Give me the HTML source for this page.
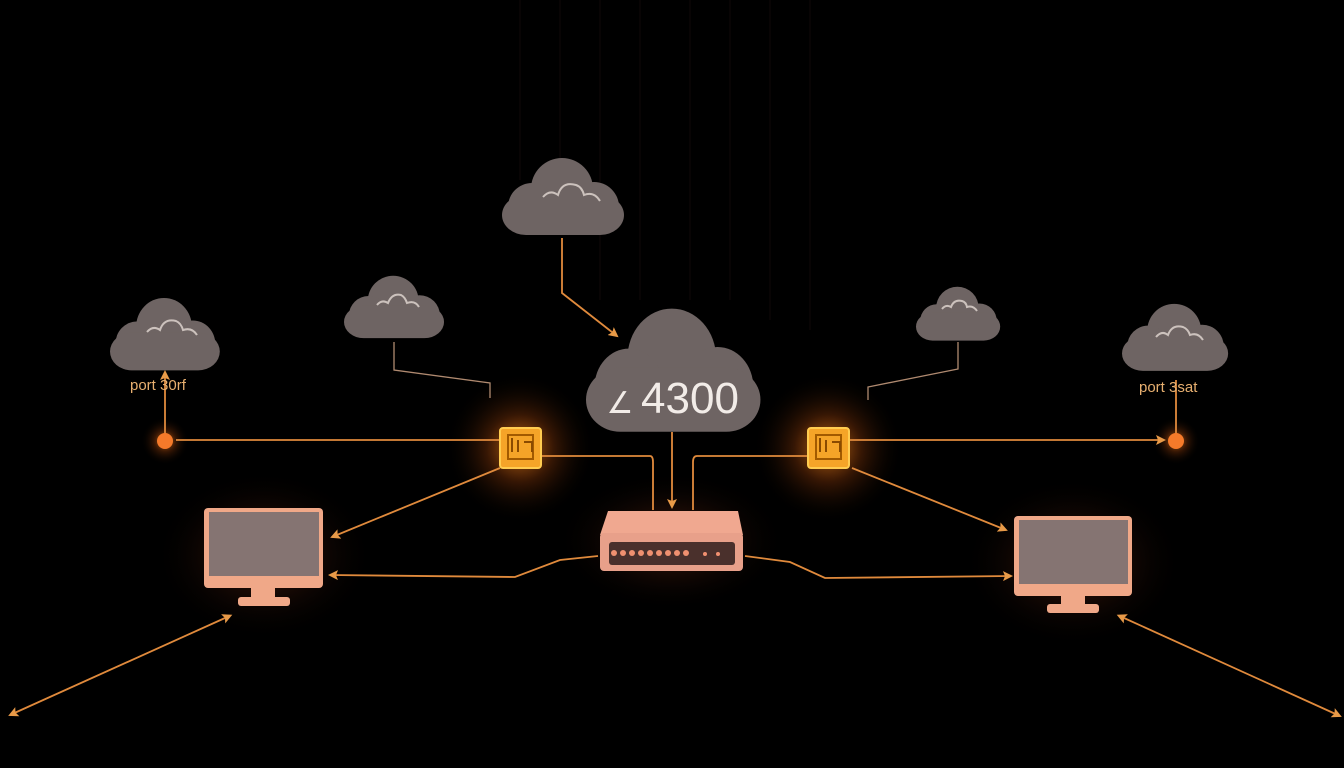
<!DOCTYPE html>
<html><head><meta charset="utf-8"><style>
html,body{margin:0;padding:0;background:#000;}
svg{display:block;}
</style></head><body>
<svg width="1344" height="768" viewBox="0 0 1344 768" xmlns="http://www.w3.org/2000/svg">
<defs>
<g id="cloud">
  <circle cx="60" cy="32" r="31"/>
  <circle cx="30" cy="50" r="24"/>
  <circle cx="92" cy="50" r="25"/>
  <rect x="0" y="38" width="122" height="40" rx="24"/>
</g>
<radialGradient id="glow" cx="50%" cy="50%" r="50%">
  <stop offset="0" stop-color="#ff9a20" stop-opacity="0.75"/>
  <stop offset="0.45" stop-color="#d85a10" stop-opacity="0.25"/>
  <stop offset="1" stop-color="#000" stop-opacity="0"/>
</radialGradient>
<radialGradient id="glow2" cx="50%" cy="50%" r="50%">
  <stop offset="0" stop-color="#c04a20" stop-opacity="0.4"/>
  <stop offset="1" stop-color="#000" stop-opacity="0"/>
</radialGradient>
<marker id="ah" markerWidth="10" markerHeight="10" refX="8" refY="5" orient="auto" markerUnits="userSpaceOnUse">
  <path d="M0,0 L10,5 L0,10 L2,5 Z" fill="#e89a48"/>
</marker>
<marker id="ahs" markerWidth="10" markerHeight="10" refX="2" refY="5" orient="auto-start-reverse" markerUnits="userSpaceOnUse">
  <path d="M0,0 L10,5 L0,10 L2,5 Z" fill="#e89a48"/>
</marker>
</defs>
<rect width="1344" height="768" fill="#000"/>
<g stroke="#1a100c" stroke-width="1" opacity="0.6">
<line x1="560" y1="0" x2="560" y2="160"/><line x1="600" y1="0" x2="600" y2="300"/>
<line x1="640" y1="0" x2="640" y2="300"/><line x1="690" y1="0" x2="690" y2="300"/>
<line x1="730" y1="0" x2="730" y2="300"/><line x1="770" y1="0" x2="770" y2="320"/>
<line x1="520" y1="0" x2="520" y2="180"/><line x1="810" y1="0" x2="810" y2="330"/>
</g>
<ellipse cx="520" cy="448" rx="75" ry="75" fill="url(#glow)"/>
<ellipse cx="828" cy="448" rx="75" ry="75" fill="url(#glow)"/>
<ellipse cx="671" cy="541" rx="115" ry="70" fill="url(#glow2)"/>
<ellipse cx="264" cy="555" rx="110" ry="85" fill="url(#glow2)"/>
<ellipse cx="1073" cy="562" rx="110" ry="85" fill="url(#glow2)"/>
<ellipse cx="165" cy="441" rx="24" ry="24" fill="url(#glow)"/>
<ellipse cx="1176" cy="441" rx="24" ry="24" fill="url(#glow)"/>

<g fill="#6e6463">
<use href="#cloud" transform="translate(502,157) scale(1,1)"/>
<use href="#cloud" transform="translate(110,297) scale(0.9,0.94)"/>
<use href="#cloud" transform="translate(344,275) scale(0.82,0.81)"/>
<use href="#cloud" transform="translate(916,286) scale(0.69,0.7)"/>
<use href="#cloud" transform="translate(1122,303) scale(0.87,0.87)"/>
<use href="#cloud" transform="translate(586,307) scale(1.43,1.6)"/>
</g>
<g fill="none" stroke="#ddd2cc" stroke-width="2" opacity="0.85">
<path d="M543,197 q7,-8 15,-2 q4,-14 18,-10 q6,2 8,10 q10,-4 16,6"/>
<path d="M147,332 q6,-7 13,-2 q4,-12 16,-9 q5,2 7,9 q9,-3 14,5"/>
<path d="M377,305 q5,-6 11,-2 q4,-10 13,-8 q4,2 6,8 q8,-3 12,4"/>
<path d="M942,309 q4,-5 9,-2 q3,-8 11,-6 q4,1 5,6 q6,-2 10,4"/>
<path d="M1156,337 q6,-7 12,-2 q4,-11 15,-8 q5,2 7,8 q8,-3 13,5"/>
</g>
<text x="620" y="413" font-family="Liberation Sans, sans-serif" font-size="30" fill="#f2ece8" text-anchor="middle">∠</text>
<text x="690" y="413" font-family="Liberation Sans, sans-serif" font-size="44" fill="#f2ece8" text-anchor="middle">4300</text>

<g fill="none" stroke="#e08a3c" stroke-width="1.8">
<line x1="176" y1="440" x2="500" y2="440"/>
<line x1="849" y1="440" x2="1164" y2="440" marker-end="url(#ah)"/>
<line x1="165" y1="441" x2="165" y2="372" marker-end="url(#ah)"/>
<line x1="1176" y1="441" x2="1176" y2="380"/>
<path d="M562,238 L562,293 L617,336" marker-end="url(#ah)"/>
<path d="M394,342 L394,370 L490,383 L490,398" stroke="#b08a70" stroke-width="1.3"/>
<path d="M958,342 L958,369 L868,387 L868,400" stroke="#b08a70" stroke-width="1.3"/>
<path d="M541,456 L650,456 Q653,456 653,462 L653,510"/>
<path d="M808,456 L697,456 Q693,456 693,462 L693,510"/>
<line x1="672" y1="432" x2="672" y2="507" marker-end="url(#ah)"/>
<line x1="500" y1="468" x2="332" y2="537" marker-end="url(#ah)"/>
<line x1="852" y1="468" x2="1006" y2="530" marker-end="url(#ah)"/>
<path d="M598,556 L560,560 L515,577 L330,575" marker-end="url(#ah)"/>
<path d="M745,556 L790,562 L825,578 L1011,576" marker-end="url(#ah)"/>
<line x1="225" y1="618" x2="10" y2="715" marker-start="url(#ahs)" marker-end="url(#ah)"/>
<line x1="1124" y1="618" x2="1340" y2="716" marker-start="url(#ahs)" marker-end="url(#ah)"/>
</g>
<circle cx="165" cy="441" r="8" fill="#f57a2a"/>
<circle cx="1176" cy="441" r="8" fill="#f57a2a"/>
<text x="130" y="390" font-family="Liberation Sans, sans-serif" font-size="15" fill="#e8b070">port 30rf</text>
<text x="1139" y="392" font-family="Liberation Sans, sans-serif" font-size="15" fill="#e8b070">port 3sat</text>

<g>
<rect x="500" y="428" width="41" height="40" rx="3" fill="#f5a428" stroke="#ffcc50" stroke-width="2"/>
<rect x="508" y="435" width="25" height="24" fill="none" stroke="#a25a00" stroke-width="2"/>
<path d="M512,438 v14 M518,440 v12 M524,442 h8 v10" stroke="#8a4a00" stroke-width="2" fill="none"/>
<rect x="808" y="428" width="41" height="40" rx="3" fill="#f5a428" stroke="#ffcc50" stroke-width="2"/>
<rect x="816" y="435" width="25" height="24" fill="none" stroke="#a25a00" stroke-width="2"/>
<path d="M820,438 v14 M826,440 v12 M832,442 h8 v10" stroke="#8a4a00" stroke-width="2" fill="none"/>
</g>

<path d="M608,511 L738,511 L743,535 L600,535 Z" fill="#f0a890"/>
<rect x="600" y="533" width="143" height="38" rx="4" fill="#e8a08a"/>
<rect x="609" y="542" width="126" height="23" rx="3" fill="#4a302c"/>
<g fill="#f09070">
<circle cx="614" cy="553" r="3"/><circle cx="623" cy="553" r="3"/><circle cx="632" cy="553" r="3"/>
<circle cx="641" cy="553" r="3"/><circle cx="650" cy="553" r="3"/><circle cx="659" cy="553" r="3"/>
<circle cx="668" cy="553" r="3"/><circle cx="677" cy="553" r="3"/><circle cx="686" cy="553" r="3"/>
<circle cx="705" cy="554" r="2"/><circle cx="718" cy="554" r="2"/>
</g>

<g>
<rect x="204" y="508" width="119" height="80" rx="4" fill="#f0a888"/>
<rect x="209" y="512" width="110" height="64" fill="#857472"/>
<rect x="251" y="588" width="24" height="10" fill="#f0a888"/>
<rect x="238" y="597" width="52" height="9" rx="3" fill="#f0a888"/>
<rect x="1014" y="516" width="118" height="80" rx="4" fill="#f0a888"/>
<rect x="1019" y="520" width="109" height="64" fill="#857472"/>
<rect x="1061" y="596" width="24" height="10" fill="#f0a888"/>
<rect x="1047" y="604" width="52" height="9" rx="3" fill="#f0a888"/>
</g>
</svg>
</body></html>
